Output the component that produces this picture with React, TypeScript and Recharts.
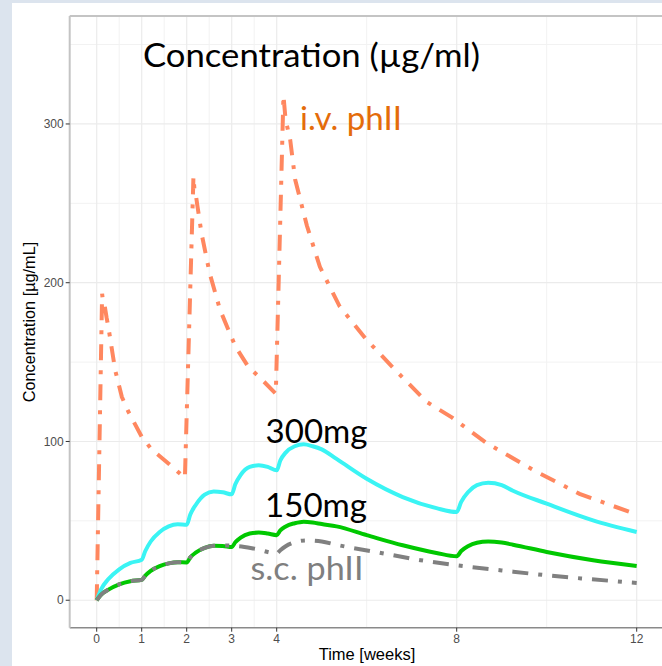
import { LineChart, Line, XAxis, YAxis, ReferenceLine } from 'recharts';

// i.v. phase II, dosed at weeks 0, 2, 4
const ivTime = [0, 0.12, 0.15, 0.18, 0.22, 0.26, 0.41, 0.56, 0.7, 1.0, 1.22, 1.6, 1.96, 2.15, 2.18, 2.21, 2.24, 2.33, 2.51, 2.74, 3.08, 3.37, 3.67, 3.98, 4.15, 4.19, 4.22, 4.3, 4.41, 4.67, 4.96, 5.4, 6.0, 6.67, 7.33, 7.9, 8.66, 9.77, 10.73, 12.0];
const ivConc = [0, 193, 186, 185, 178, 172, 145, 128, 119, 103, 95, 86, 77, 267, 256, 254, 248, 231, 206, 183, 160, 147, 139, 130, 318, 305, 300, 290, 265, 236, 210, 185, 164, 144, 125, 115, 99, 81, 67, 54];

// 300 mg s.c.
const d300Time = [0, 0.1, 0.25, 0.5, 0.75, 1.0, 1.08, 1.2, 1.4, 1.6, 1.8, 2.0, 2.08, 2.2, 2.4, 2.6, 2.8, 3.0, 3.08, 3.2, 3.4, 3.6, 3.8, 4.0, 4.08, 4.2, 4.4, 4.6, 4.8, 5.0, 5.33, 6.0, 6.8, 7.55, 8.0, 8.1, 8.25, 8.45, 8.7, 9.0, 9.25, 10.0, 11.03, 12.0];
const d300Conc = [0, 7, 13, 19.5, 23.5, 25.5, 31, 37, 43, 46.5, 47.8, 47.5, 54, 60, 66.5, 68.5, 68, 66.7, 73, 79, 84, 85, 84, 81.8, 88, 93, 97, 98.2, 97, 95, 89, 76.5, 65, 58, 55.6, 62, 68, 72.5, 74, 72.5, 69, 60.8, 50.3, 43];

// 150 mg s.c.
const d150Time = [0, 0.1, 0.25, 0.5, 0.75, 1.0, 1.08, 1.2, 1.4, 1.6, 1.8, 2.0, 2.08, 2.2, 2.4, 2.6, 2.8, 3.0, 3.08, 3.2, 3.4, 3.6, 3.8, 4.0, 4.08, 4.2, 4.4, 4.6, 4.8, 5.0, 5.33, 6.0, 6.8, 7.55, 8.0, 8.1, 8.25, 8.45, 8.7, 9.0, 9.25, 10.0, 11.03, 12.0];
const d150Conc = [0, 3.5, 6.5, 10, 12, 12.8, 15.5, 18.5, 21.5, 23.2, 24, 23.8, 27, 30, 33, 34.3, 34.2, 33.5, 36.5, 39.5, 42, 42.6, 42, 41, 44, 46.5, 48.5, 49.5, 49, 48, 46.5, 41, 34.6, 29.8, 27.7, 31, 34, 36.2, 37, 36.3, 35, 30.4, 25.2, 21.6];

// s.c. phase II
const scTime = [0, 0.1, 0.25, 0.5, 0.75, 1.0, 1.08, 1.2, 1.4, 1.6, 1.8, 2.0, 2.08, 2.2, 2.4, 2.6, 2.8, 3.05, 3.5, 4.0, 4.08, 4.2, 4.4, 4.65, 5.0, 5.35, 6.2, 7.2, 8.0, 9.0, 10.0, 11.0, 12.0];
const scConc = [0, 3.5, 6.5, 10, 12, 12.8, 15.5, 18.5, 21.5, 23.2, 24, 23.8, 27, 30, 33, 34.3, 34.5, 34.3, 32.5, 29.5, 31.5, 34, 36.5, 37.7, 37, 34.8, 30.4, 25.2, 22, 18.8, 15.7, 13.2, 10.9];

const xTicks = [0, 1, 2, 3, 4, 8, 12];
const xMinor = [0.5, 1.5, 2.5, 3.5, 6, 10];
const yTicks = [0, 100, 200, 300];
const yMinor = [50, 150, 250, 350];

const zip = (t: number[], c: number[]) => t.map((v, i) => ({ t: v, c: c[i] }));

const ivData = zip(ivTime, ivConc);
const d300Data = zip(d300Time, d300Conc);
const d150Data = zip(d150Time, d150Conc);
const scData = zip(scTime, scConc);

const tickStyle = { fill: '#4d4d4d', fontSize: 12, fontFamily: 'Liberation Sans, Arial, sans-serif' };
const noteFont = 'Lato, "Open Sans", sans-serif';

export default function App() {
  return (
    <div style={{ position: 'absolute', left: 0, top: 0, width: 662, height: 666, background: '#dce4ee', overflow: 'hidden' }}>
      <div style={{ position: 'absolute', left: 12, top: 3, width: 650, height: 663, background: '#fff' }} />
      <div style={{ position: 'absolute', left: 0, top: 0 }}>
        <LineChart width={664} height={666} margin={{ top: 16, right: 0.3, left: 0, bottom: 0 }}>
          <XAxis
            type="number"
            dataKey="t"
            domain={[-0.6, 12.6]}
            ticks={xTicks}
            allowDataOverflow
            height={38.3}
            tick={tickStyle}
            tickSize={4}
            tickMargin={3}
            tickLine={{ stroke: '#333' }}
            axisLine={{ stroke: '#8a8a8a', strokeWidth: 1.5 }}
          />
          <YAxis
            type="number"
            domain={[-17.3, 368]}
            ticks={yTicks}
            allowDataOverflow
            width={69.7}
            tick={tickStyle}
            tickSize={4}
            tickLine={{ stroke: '#333' }}
            axisLine={{ stroke: '#c4c4c4', strokeWidth: 2 }}
          />
          {xMinor.map((v) => (
            <ReferenceLine key={`xm${v}`} x={v} stroke="#f2f2f2" strokeWidth={1} />
          ))}
          {yMinor.map((v) => (
            <ReferenceLine key={`ym${v}`} y={v} stroke="#f2f2f2" strokeWidth={1} />
          ))}
          {xTicks.map((v) => (
            <ReferenceLine key={`x${v}`} x={v} stroke="#ebebeb" strokeWidth={1.2} />
          ))}
          {yTicks.map((v) => (
            <ReferenceLine key={`y${v}`} y={v} stroke="#ebebeb" strokeWidth={1.2} />
          ))}
          <ReferenceLine y={368} stroke="#c4c4c4" strokeWidth={2} />
          <Line data={ivData} dataKey="c" type="linear" stroke="#ff875f" strokeWidth={4} strokeDasharray="16 10 4 10" dot={false} isAnimationActive={false} />
          <Line data={d300Data} dataKey="c" type="monotone" stroke="#3af4f4" strokeWidth={4} dot={false} isAnimationActive={false} />
          <Line data={d150Data} dataKey="c" type="monotone" stroke="#00c800" strokeWidth={4} dot={false} isAnimationActive={false} />
          <Line data={scData} dataKey="c" type="monotone" stroke="#808080" strokeWidth={4} strokeDasharray="16 10 4 10" dot={false} isAnimationActive={false} />
        </LineChart>
      </div>
      <svg width={500} height={666} style={{ position: 'absolute', left: 0, top: 0, pointerEvents: 'none' }}>
        <text x={143} y={66.7} fontFamily={noteFont} fontSize={32} fill="#000" textLength={337} lengthAdjust="spacingAndGlyphs">
          Concentration (µg/ml)
        </text>
        <text x={300} y={130} fontFamily={noteFont} fontSize={32} fill="#e46c0a" textLength={102} lengthAdjust="spacingAndGlyphs">
          i.v. phII
        </text>
        <text x={265.5} y={443.3} fontFamily={noteFont} fontSize={32} fill="#000" textLength={102} lengthAdjust="spacingAndGlyphs">
          300mg
        </text>
        <text x={265} y={516.7} fontFamily={noteFont} fontSize={32} fill="#000" textLength={102} lengthAdjust="spacingAndGlyphs">
          150mg
        </text>
        <text x={250.5} y={580} fontFamily={noteFont} fontSize={32} fill="#7f7f7f" textLength={113} lengthAdjust="spacingAndGlyphs">
          s.c. phII
        </text>
        <text x={367} y={660} textAnchor="middle" fontFamily="Liberation Sans, Arial, sans-serif" fontSize={16.5} fill="#000">
          Time [weeks]
        </text>
        <text
          x={0}
          y={0}
          transform="translate(35.3 322) rotate(-90)"
          textAnchor="middle"
          fontFamily="Liberation Sans, Arial, sans-serif"
          fontSize={16.3}
          fill="#000"
        >
          Concentration [µg/mL]
        </text>
      </svg>
    </div>
  );
}
